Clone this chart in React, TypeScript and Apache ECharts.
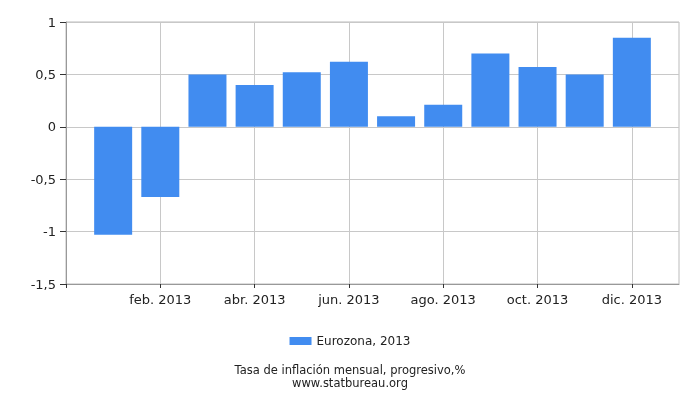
import React, { useEffect, useRef } from "react";
import * as echarts from "echarts";

// month position on the x axis (Jan = 1 ... Dec = 12)
const monthPos = [1, 2, 3, 4, 5, 6, 7, 8, 9, 10, 11, 12];
const inflation = [-1.03, -0.67, 0.5, 0.4, 0.52, 0.62, 0.1, 0.21, 0.7, 0.57, 0.5, 0.85];
const xTickPos = [0, 2, 4, 6, 8, 10, 12];
const xTickLabels: { [key: number]: string } = {
  2: "feb. 2013",
  4: "abr. 2013",
  6: "jun. 2013",
  8: "ago. 2013",
  10: "oct. 2013",
  12: "dic. 2013",
};
const seriesName = "Eurozona, 2013";
const titleText = "Tasa de inflación mensual, progresivo,%";
const sourceText = "www.statbureau.org";

const FONT = "DejaVu Sans";

const App: React.FC = () => {
  const chartRef = useRef<HTMLDivElement>(null);

  useEffect(() => {
    if (!chartRef.current) return;
    const chart = echarts.init(chartRef.current, undefined, { renderer: "svg" });

    const footStyle = {
      fontSize: 11.5,
      lineHeight: 12,
      fontWeight: "normal",
      color: "#222",
      fontFamily: FONT,
    };

    const option = {
      animation: false,
      textStyle: { fontFamily: FONT },
      title: [
        { text: titleText, left: "center", top: 364, padding: 0, textStyle: footStyle },
        { text: sourceText, left: "center", top: 377, padding: 0, textStyle: footStyle },
      ],
      legend: {
        top: 330,
        left: "center",
        itemWidth: 22,
        itemHeight: 8,
        itemGap: 4,
        icon: "rect",
        textStyle: { fontSize: 12, color: "#222", fontFamily: FONT },
        data: [seriesName],
      },
      grid: {
        left: 66,
        right: 21,
        top: 22,
        bottom: 116,
        show: true,
        borderColor: "#bbb",
        borderWidth: 1,
      },
      xAxis: {
        type: "value",
        min: 0,
        max: 13,
        interval: 2,
        axisLine: { show: true, onZero: false, lineStyle: { color: "#999" } },
        axisTick: {
          show: true,
          length: 4,
          customValues: xTickPos,
          lineStyle: { color: "#333" },
        },
        axisLabel: {
          margin: 9,
          fontSize: 13,
          color: "#222",
          fontFamily: FONT,
          formatter: (v: number) => xTickLabels[v] || "",
        },
        splitLine: { show: true, lineStyle: { color: "#c8c8c8" } },
      },
      yAxis: {
        type: "value",
        min: -1.5,
        max: 1,
        interval: 0.5,
        axisLine: { show: true, lineStyle: { color: "#999" } },
        axisTick: { show: true, length: 6, lineStyle: { color: "#333" } },
        axisLabel: {
          margin: 10,
          fontSize: 13,
          color: "#222",
          fontFamily: FONT,
          formatter: (v: number) => String(v).replace(".", ","),
        },
        splitLine: { show: true, lineStyle: { color: "#c8c8c8" } },
      },
      series: [
        {
          name: seriesName,
          type: "bar",
          barWidth: 38,
          itemStyle: { color: "#418cf0" },
          data: monthPos.map((m, i) => [m, inflation[i]]),
        },
      ],
    };

    chart.setOption(option);
    return () => {
      chart.dispose();
    };
  }, []);

  return (
    <div
      ref={chartRef}
      style={{ position: "fixed", left: 0, top: 0, width: 700, height: 400 }}
    />
  );
};

export default App;
